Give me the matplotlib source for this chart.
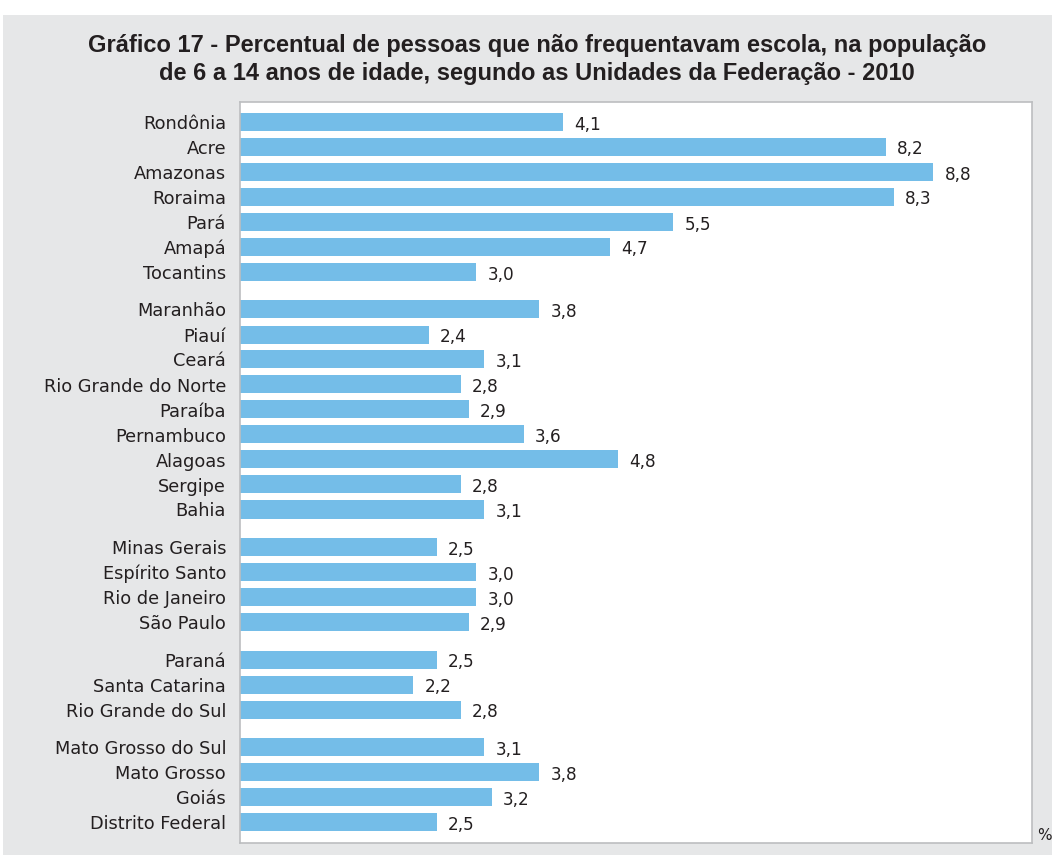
import matplotlib
matplotlib.use("Agg")
import matplotlib.pyplot as plt
from matplotlib.patches import Rectangle

# Unidades da Federação agrupadas por região
regioes = [
    ["Rondônia", "Acre", "Amazonas", "Roraima", "Pará", "Amapá", "Tocantins"],
    ["Maranhão", "Piauí", "Ceará", "Rio Grande do Norte", "Paraíba",
     "Pernambuco", "Alagoas", "Sergipe", "Bahia"],
    ["Minas Gerais", "Espírito Santo", "Rio de Janeiro", "São Paulo"],
    ["Paraná", "Santa Catarina", "Rio Grande do Sul"],
    ["Mato Grosso do Sul", "Mato Grosso", "Goiás", "Distrito Federal"],
]
valores = [
    [4.1, 8.2, 8.8, 8.3, 5.5, 4.7, 3.0],
    [3.8, 2.4, 3.1, 2.8, 2.9, 3.6, 4.8, 2.8, 3.1],
    [2.5, 3.0, 3.0, 2.9],
    [2.5, 2.2, 2.8],
    [3.1, 3.8, 3.2, 2.5],
]

titulo = ("Gráfico 17 - Percentual de pessoas que não frequentavam escola, na população\n"
          "de 6 a 14 anos de idade, segundo as Unidades da Federação - 2010")

cor_barra = "#74bde8"
cor_texto = "#231f20"
cor_fundo = "#e6e7e8"
fonte = "DejaVu Sans"

fig = plt.figure(figsize=(10.52, 8.55), dpi=100)
fig.patch.set_facecolor("white")
fig.add_artist(Rectangle((3 / 1052, 0), 1, 1 - 15 / 855, transform=fig.transFigure,
                         facecolor=cor_fundo, edgecolor="none", zorder=0))

ax = fig.add_axes([240 / 1052, 1 - 843 / 855, (1032 - 240) / 1052, (843 - 102) / 855])
ax.set_facecolor("white")

# posições das barras: espaço extra entre regiões
nomes, vals, pos = [], [], []
y = 0.0
for g, (ns, vs) in enumerate(zip(regioes, valores)):
    if g > 0:
        y += 0.5
    for n, v in zip(ns, vs):
        nomes.append(n)
        vals.append(v)
        pos.append(y)
        y += 1.0

ax.barh(pos, vals, height=0.72, color=cor_barra, zorder=2)
for p, v in zip(pos, vals):
    ax.text(v + 0.14, p + 0.1, f"{v:.1f}".replace(".", ","), va="center", ha="left",
            fontsize=12.2, color=cor_texto, family=fonte)

ax.set_xlim(0, 10.05)
ax.set_ylim(pos[-1] + 0.84, pos[0] - 0.8)
ax.set_yticks(pos)
ax.set_yticklabels(nomes, fontsize=12.8, color=cor_texto, family=fonte)
ax.tick_params(axis="y", length=0, pad=10)
ax.set_xticks([])
for s in ax.spines.values():
    s.set_color("#bcbec0")
    s.set_linewidth(1.2)

fig.text(537 / 1052, 1 - 59.5 / 855, titulo, ha="center", va="center", fontsize=17,
         fontweight="bold", color=cor_texto, family="Liberation Sans",
         linespacing=1.24)
fig.text(1037 / 1052, 1 - 835 / 855, "%", ha="left", va="center", fontsize=11,
         color=cor_texto, family=fonte)

fig.savefig("out.png", dpi=100)
